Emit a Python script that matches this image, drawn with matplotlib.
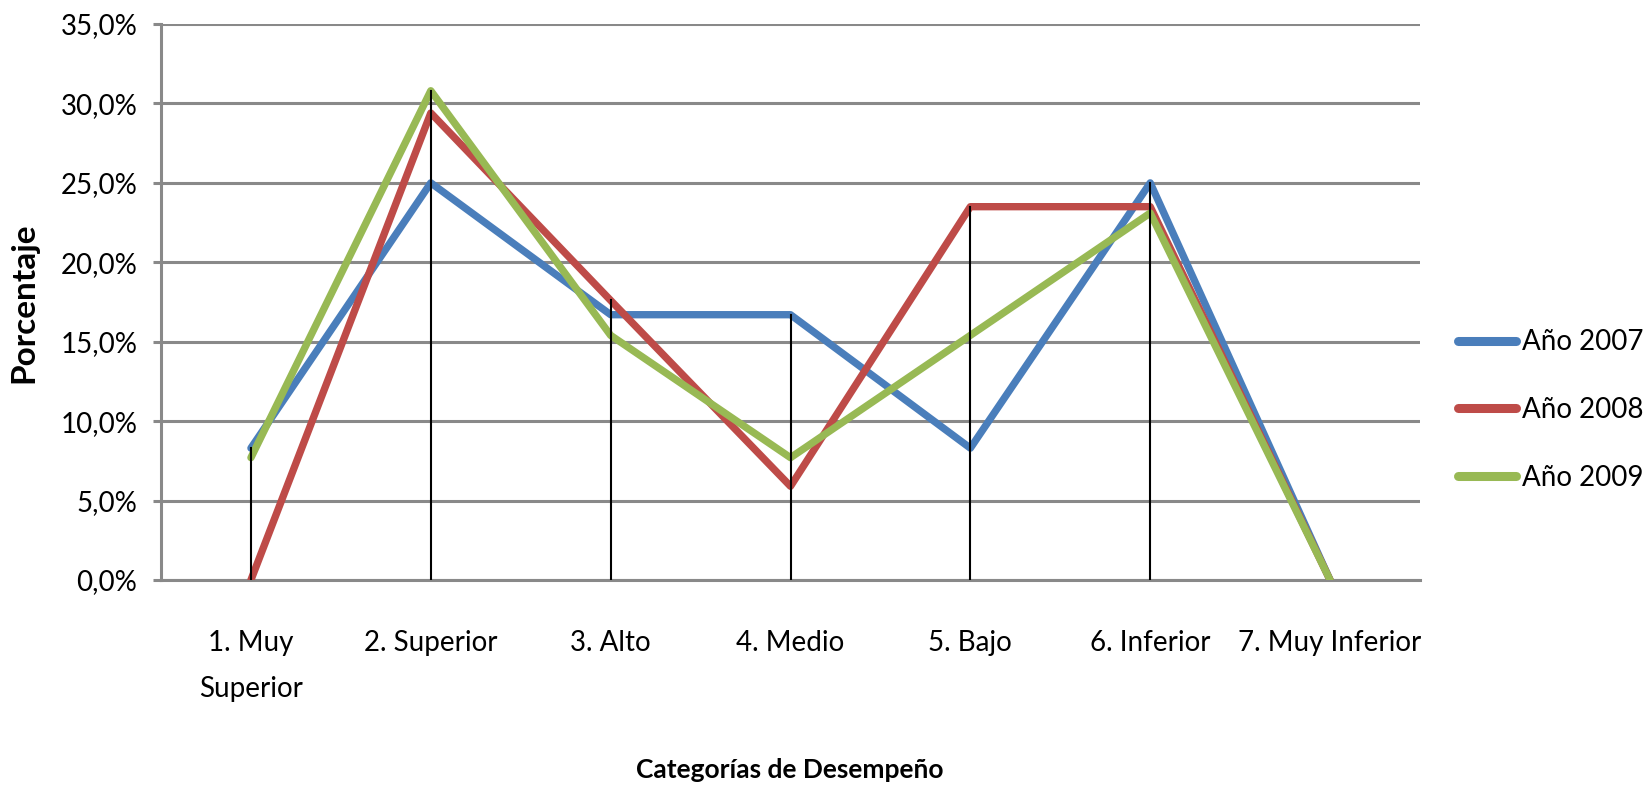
import matplotlib.pyplot as plt
from matplotlib.lines import Line2D
from matplotlib.ticker import FuncFormatter

# =========================
# Data
# =========================
categorias = ["1. Muy\nSuperior", "2. Superior", "3. Alto", "4. Medio",
              "5. Bajo", "6. Inferior", "7. Muy Inferior"]
anio_2007 = [8.3, 25.0, 16.7, 16.7, 8.3, 25.0, 0.0]
anio_2008 = [0.0, 29.4, 17.6, 5.9, 23.5, 23.5, 0.0]
anio_2009 = [7.7, 30.8, 15.4, 7.7, 15.4, 23.1, 0.0]
series = [("Año 2007", anio_2007), ("Año 2008", anio_2008), ("Año 2009", anio_2009)]
colores = ["#4A7EBB", "#BE4B48", "#98B954"]

plt.rcParams['font.family'] = ["Lato", "DejaVu Sans"]

W, H = 1646, 788
fig = plt.figure(figsize=(W / 100, H / 100), dpi=100)
ax = fig.add_axes([161 / W, 1 - 580 / H, 1259 / W, 556 / H])

x = list(range(len(categorias)))

for (nombre, vals), c in zip(series, colores):
    ax.plot(x, vals, color=c, lw=5.3, zorder=3,
            solid_joinstyle="round", solid_capstyle="round")

# drop lines (from highest value down to the axis)
for i in x:
    top = max(s[1][i] for s in series)
    ax.plot([i, i], [0, top], color="black", lw=1.5, zorder=4)

ax.set_xlim(-0.5, len(categorias) - 0.5)
ax.set_ylim(0, 35)
ax.set_yticks(range(0, 36, 5))
ax.yaxis.set_major_formatter(FuncFormatter(lambda v, p: f"{v:.1f}%".replace(".", ",")))
ax.grid(axis="y", color="#898989", lw=2.2)
ax.set_axisbelow(True)
ax.set_xticks(x)
ax.set_xticklabels(categorias, fontsize=20, linespacing=1.95)
ax.tick_params(axis="y", labelsize=20, length=6, color="#898989", width=2.2, pad=11)
ax.tick_params(axis="x", length=0, pad=36)

for s in ["top", "right"]:
    ax.spines[s].set_visible(False)
for s in ["left", "bottom"]:
    ax.spines[s].set_color("#898989")
    ax.spines[s].set_linewidth(2.2)

fig.text(24 / W, 1 - 303 / H, "Porcentaje", rotation=90, fontsize=24,
         fontweight="bold", ha="center", va="center")
fig.text(790 / W, 1 - 770 / H, "Categorías de Desempeño", fontsize=19,
         fontweight="bold", ha="center", va="center")

handles = [Line2D([0], [0], color=c, lw=6.5, solid_capstyle="round") for c in colores]
fig.legend(handles, [s[0] for s in series], loc="center left",
           bbox_to_anchor=(1458 / W, 1 - 410 / H), frameon=False,
           fontsize=20, handlelength=2.1, handletextpad=0.2, labelspacing=1.5,
           borderpad=0, borderaxespad=0)

fig.savefig("out.png", dpi=100)
